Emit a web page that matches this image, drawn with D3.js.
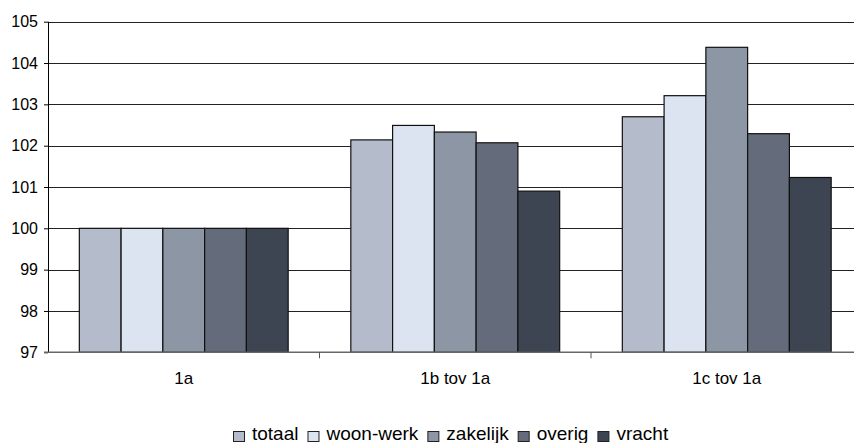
<!DOCTYPE html>
<html>
<head>
<meta charset="utf-8">
<script src="https://cdn.jsdelivr.net/npm/d3@7"></script>
<style>
  body { margin: 0; background: #fff; }
  text { font-family: "Liberation Sans", Arial, sans-serif; fill: #000; }
</style>
</head>
<body>
<svg id="chart" width="854" height="443"></svg>
<script>
var categories = ["1a", "1b tov 1a", "1c tov 1a"];
var series = ["totaal", "woon-werk", "zakelijk", "overig", "vracht"];
var colors = ["#b4bccb", "#dce4f2", "#8d96a4", "#646c7b", "#3d4553"];
var totaal    = [100, 102.14, 102.70];
var woonWerk  = [100, 102.49, 103.21];
var zakelijk  = [100, 102.33, 104.38];
var overig    = [100, 102.07, 102.29];
var vracht    = [100, 100.90, 101.23];
var yTicks = [97, 98, 99, 100, 101, 102, 103, 104, 105];

var values = [totaal, woonWerk, zakelijk, overig, vracht];
var data = categories.map((c, i) => ({cat: c, vals: series.map((s, j) => ({key: s, value: values[j][i]}))}));

var svg = d3.select("#chart"),
    margin = {top: 21.7, left: 48, bottom: 90.7, right: -8.5},
    width = +svg.attr("width"),
    height = +svg.attr("height");

var x = d3.scaleBand()
  .domain(categories)
  .range([margin.left, width - margin.right])
  .padding(0);

var x1 = d3.scaleBand()
  .domain(series)
  .range([0, x.bandwidth()])
  .paddingInner(0)
  .paddingOuter(0.75);

var y = d3.scaleLinear()
  .domain([97, 105])
  .range([height - margin.bottom, margin.top]);

var z = d3.scaleOrdinal().domain(series).range(colors);

// gridlines
svg.append("g")
  .selectAll("line")
  .data(yTicks.slice(1))
  .enter().append("line")
  .attr("x1", margin.left)
  .attr("x2", width - margin.right)
  .attr("y1", d => Math.round(y(d)) + 0.5)
  .attr("y2", d => Math.round(y(d)) + 0.5)
  .attr("stroke", "#222")
  .attr("stroke-width", 1);

// bars
var group = svg.append("g").selectAll("g")
  .data(data)
  .enter().append("g")
  .attr("transform", d => `translate(${x(d.cat)},0)`);

group.selectAll("rect")
  .data(d => d.vals)
  .enter().append("rect")
  .attr("x", d => x1(d.key))
  .attr("width", x1.bandwidth())
  .attr("y", d => y(d.value))
  .attr("height", d => y(97) - y(d.value))
  .attr("fill", d => z(d.key))
  .attr("stroke", "#111")
  .attr("stroke-width", 1.2);

// y axis
var yAxis = svg.append("g")
  .attr("transform", `translate(${margin.left},0)`)
  .call(d3.axisLeft(y).tickValues(yTicks).tickSize(4).tickPadding(6).tickFormat(d3.format("d")));
yAxis.select(".domain").attr("stroke", "#000").attr("d", `M0.5,${y(105)}V${y(97)}`);
yAxis.selectAll(".tick line").attr("stroke", "#000");
yAxis.selectAll("text").style("font-size", "16px");

// x axis
var xAxis = svg.append("g")
  .attr("transform", `translate(0,${y(97)})`);
xAxis.append("line")
  .attr("x1", margin.left - 4)
  .attr("x2", width - margin.right)
  .attr("stroke", "#666")
  .attr("stroke-width", 1.6);
xAxis.selectAll(".sep")
  .data(categories.slice(1))
  .enter().append("line")
  .attr("class", "sep")
  .attr("x1", d => x(d))
  .attr("x2", d => x(d))
  .attr("y1", 0)
  .attr("y2", 6)
  .attr("stroke", "#555");
xAxis.selectAll(".lbl")
  .data(categories)
  .enter().append("text")
  .attr("class", "lbl")
  .attr("x", d => x(d) + x.bandwidth() / 2)
  .attr("y", 32)
  .attr("text-anchor", "middle")
  .style("font-size", "17px")
  .text(d => d);

// legend
var legend = svg.append("g").attr("transform", "translate(233,0)");
var lx = 0;
series.forEach((s, i) => {
  var item = legend.append("g").attr("transform", `translate(${lx},0)`);
  item.append("rect")
    .attr("x", 0.5).attr("y", 431.5)
    .attr("width", 11).attr("height", 10)
    .attr("fill", colors[i])
    .attr("stroke", "#222");
  var t = item.append("text")
    .attr("x", 19).attr("y", 440)
    .style("font-size", "19px")
    .text(s);
  lx += 19 + t.node().getComputedTextLength() + 9;
});
</script>
</body>
</html>
